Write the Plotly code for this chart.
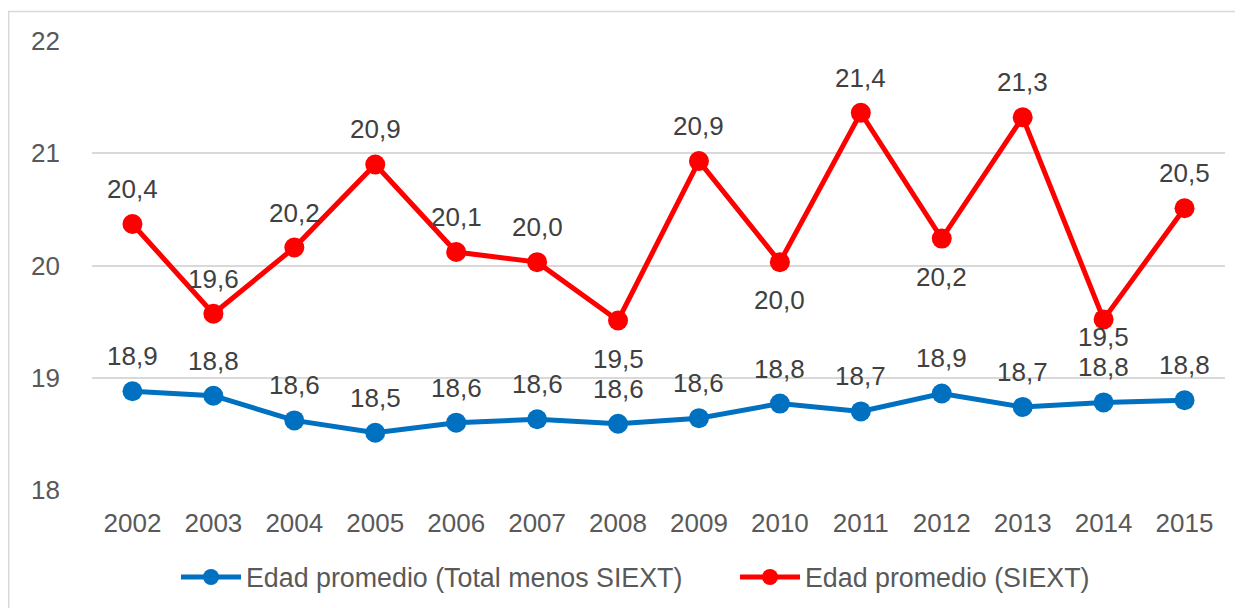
import plotly.graph_objects as go

years = ["2002", "2003", "2004", "2005", "2006", "2007", "2008",
         "2009", "2010", "2011", "2012", "2013", "2014", "2015"]
edad_total_menos_siext = [18.88, 18.84, 18.62, 18.51, 18.60, 18.63, 18.59,
                          18.64, 18.77, 18.70, 18.86, 18.74, 18.78, 18.80]
edad_siext = [20.37, 19.57, 20.16, 20.90, 20.12, 20.03, 19.51,
              20.93, 20.03, 21.36, 20.24, 21.32, 19.52, 20.51]
# label placement relative to marker ("above"/"below"/"below_near")
siext_label_pos = ["above", "above", "above", "above", "above", "above", "below",
                   "above", "below", "above", "below", "above", "below_near", "above"]
y_ticks = [18, 19, 20, 21, 22]

name_blue = "Edad promedio (Total menos SIEXT)"
name_red = "Edad promedio (SIEXT)"

BLUE = "#0070C0"
RED = "#FF0000"
FONT = "Liberation Sans, Arial, sans-serif"
FS = 26
FS_LEG = 26.8

fig = go.Figure()
fig.add_trace(go.Scatter(x=years, y=edad_total_menos_siext, name=name_blue,
                         mode="lines+markers",
                         line=dict(color=BLUE, width=5),
                         marker=dict(color=BLUE, size=20),
                         legendwidth=484))
fig.add_trace(go.Scatter(x=years, y=edad_siext, name=name_red,
                         mode="lines+markers",
                         line=dict(color=RED, width=5),
                         marker=dict(color=RED, size=20)))

def fmt(v):
    return f"{v:.1f}".replace(".", ",")

annotations = []
for i, v in enumerate(edad_total_menos_siext):
    annotations.append(dict(x=i, y=v, xref="x", yref="y", text=fmt(v), showarrow=False,
                            yshift=35, font=dict(family=FONT, size=FS, color="#404040")))
shift_map = {"above": 35, "below": -38, "below_near": -18}
for i, (v, p) in enumerate(zip(edad_siext, siext_label_pos)):
    annotations.append(dict(x=i, y=v, xref="x", yref="y", text=fmt(v), showarrow=False,
                            yshift=shift_map[p], font=dict(family=FONT, size=FS, color="#404040")))

# page has an 8px body margin; figure placed at (8, 8)
fig.update_layout(
    width=1235, height=600,
    margin=dict(l=84, r=18, t=32.5, b=117.5, autoexpand=False),
    paper_bgcolor="white", plot_bgcolor="white",
    font=dict(family=FONT, size=FS, color="#595959"),
    annotations=annotations,
    showlegend=True,
    legend=dict(orientation="h", x=(176 - 92) / 1133, xanchor="left", y=-0.194, yanchor="middle",
                font=dict(family=FONT, size=FS_LEG, color="#595959"),
                itemwidth=60, bgcolor="rgba(0,0,0,0)"),
    shapes=[dict(type="rect", xref="paper", yref="paper",
                 x0=(8.7 - 92) / 1133, x1=1.03, y0=-0.3, y1=(490.5 - 11) / 450,
                 line=dict(color="#D9D9D9", width=1.5), layer="below")],
)
fig.update_xaxes(type="category", range=[-0.5, 13.5], showgrid=False, zeroline=False,
                 showline=False, ticks="", ticklabelstandoff=15,
                 tickfont=dict(family=FONT, size=FS, color="#595959"))
fig.update_yaxes(range=[18, 22], tickvals=y_ticks, showgrid=True, gridcolor="#D9D9D9",
                 gridwidth=1.5, zeroline=False, showline=False, ticks="",
                 ticklabelstandoff=31,
                 tickfont=dict(family=FONT, size=FS, color="#595959"))

fig.write_html("out.html")
